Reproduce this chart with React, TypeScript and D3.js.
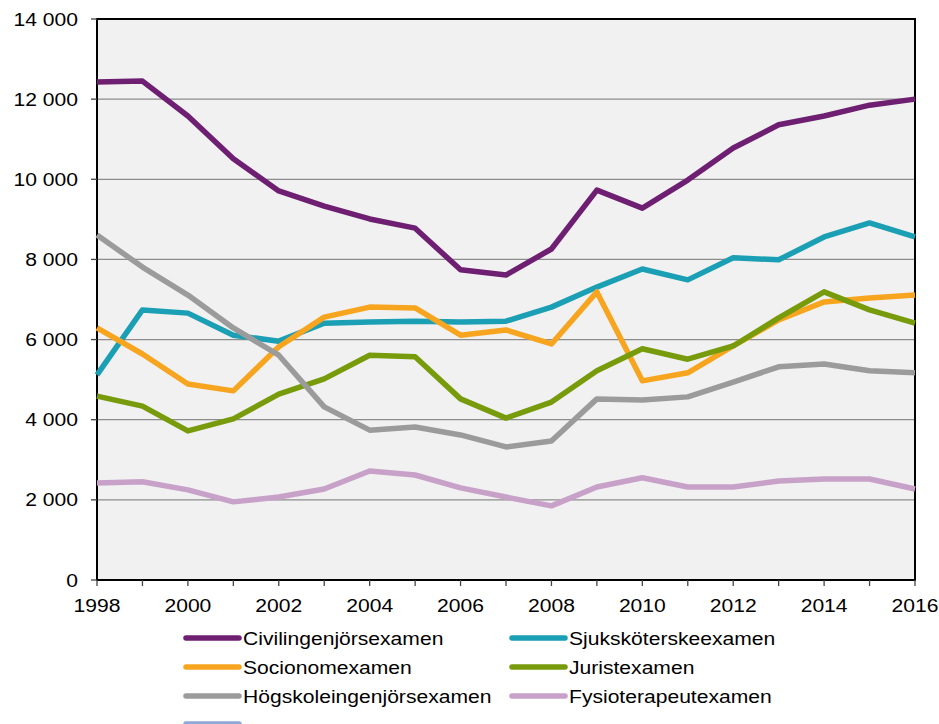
import React from 'react';
import * as d3 from 'd3';

const years = d3.range(1998, 2017);

const civilingenjor = [12430, 12450, 11580, 10510, 9710, 9330, 9010, 8780, 7740, 7610, 8260, 9730, 9280, 9980, 10780, 11360, 11580, 11850, 12000];
const sjukskoterske = [5120, 6740, 6660, 6110, 5960, 6410, 6440, 6460, 6440, 6460, 6810, 7310, 7760, 7490, 8040, 7990, 8560, 8910, 8560];
const socionom = [6290, 5640, 4890, 4720, 5820, 6560, 6810, 6790, 6110, 6240, 5890, 7190, 4970, 5170, 5840, 6490, 6940, 7040, 7110];
const jurist = [4590, 4340, 3720, 4020, 4640, 5020, 5610, 5570, 4520, 4040, 4440, 5220, 5770, 5510, 5840, 6540, 7190, 6740, 6410];
const hogskoleingenjor = [8610, 7810, 7110, 6290, 5610, 4320, 3740, 3820, 3620, 3320, 3470, 4520, 4490, 4570, 4940, 5320, 5390, 5220, 5170];
const fysioterapeut = [2420, 2450, 2250, 1950, 2070, 2270, 2720, 2620, 2300, 2070, 1850, 2320, 2550, 2320, 2320, 2470, 2520, 2520, 2270];

const seriesNames = ['Civilingenjörsexamen', 'Sjuksköterskeexamen', 'Socionomexamen', 'Juristexamen', 'Högskoleingenjörsexamen', 'Fysioterapeutexamen'];
const seriesValues = [civilingenjor, sjukskoterske, socionom, jurist, hogskoleingenjor, fysioterapeut];
const seriesColors = ['#6e1f72', '#1b9fb4', '#f7a51f', '#789b0c', '#9b9b9b', '#c8a1c9'];

const yTicks = [0, 2000, 4000, 6000, 8000, 10000, 12000, 14000];
const xTickLabels = [1998, 2000, 2002, 2004, 2006, 2008, 2010, 2012, 2014, 2016];

const W = 939, H = 724;
const left = 97, right = 915, top = 19, bottom = 580;
const font = '"Liberation Sans", Arial, sans-serif';
const FS = 18.5;
const SX = 1.14; // the original text is a bit wider than Liberation Sans

const fmt = (v: number) => d3.format(',')(v).replace(/,/g, ' ');

const Label = ({ x, y, anchor, children }: { x: number; y: number; anchor: string; children: any }) => (
  <text transform={`translate(${x},${y}) scale(${SX},1)`} textAnchor={anchor} fontSize={FS} fill="#000">{children}</text>
);

export default function App() {
  const x = d3.scaleLinear().domain([1998, 2016]).range([left, right]);
  const y = d3.scaleLinear().domain([0, 14000]).range([bottom, top]);
  const line = d3.line<number>().x((_, i) => x(years[i])).y(d => y(d));

  return (
    <svg width={W} height={H} style={{ position: 'absolute', left: 0, top: 0, background: '#fff' }} fontFamily={font}>
      <rect x={left} y={top} width={right - left} height={bottom - top} fill="#f1f1f1" />
      {yTicks.filter(t => t > 0 && t < 14000).map(t => (
        <line key={t} x1={left} x2={right} y1={y(t)} y2={y(t)} stroke="#8c8c8c" strokeWidth={1.3} />
      ))}
      {/* axes box */}
      <rect x={left} y={top} width={right - left} height={bottom - top} fill="none" stroke="#000" strokeWidth={2} />
      {yTicks.map(t => (
        <g key={t}>
          <line x1={left - 6} x2={left} y1={y(t)} y2={y(t)} stroke="#444" strokeWidth={1.3} />
          <Label x={78} y={y(t) + 6.5} anchor="end">{fmt(t)}</Label>
        </g>
      ))}
      {years.map(yr => (
        <line key={yr} x1={x(yr)} x2={x(yr)} y1={bottom} y2={bottom + 6} stroke="#444" strokeWidth={1.3} />
      ))}
      {xTickLabels.map(yr => (
        <Label key={yr} x={x(yr)} y={612} anchor="middle">{yr}</Label>
      ))}
      {seriesValues.map((vals, i) => (
        <path key={i} d={line(vals) || ''} fill="none" stroke={seriesColors[i]} strokeWidth={5.5} strokeLinejoin="round" />
      ))}
      {seriesNames.map((name, i) => {
        const col = i % 2, row = Math.floor(i / 2);
        const sx = col === 0 ? 186 : 512;
        const ly = 638 + row * 29;
        return (
          <g key={name}>
            <line x1={sx} x2={sx + 53} y1={ly} y2={ly} stroke={seriesColors[i]} strokeWidth={5.5} strokeLinecap="round" />
            <Label x={sx + 57} y={ly + 6.5} anchor="start">{name}</Label>
          </g>
        );
      })}
      <line x1={186} x2={239} y1={724} y2={724} stroke="#8fa8d4" strokeWidth={5.5} strokeLinecap="round" />
    </svg>
  );
}
